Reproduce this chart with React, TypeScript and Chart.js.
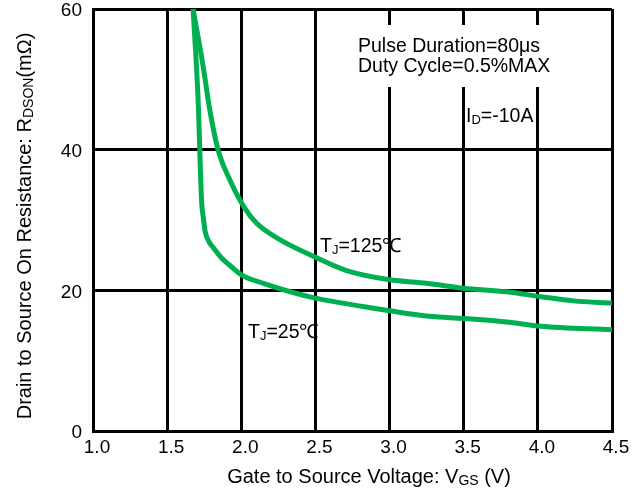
import React, { useEffect, useRef } from "react";
import { Chart, registerables } from "chart.js";

Chart.register(...registerables);

// Gate-to-source voltage (V) and Rds(on) (mΩ)
const vgs125: number[] = [1.675, 1.743, 1.788, 1.843, 1.923, 2.02, 2.1, 2.26, 2.49, 2.71, 3.0, 3.25, 3.5, 3.79, 4.02, 4.24, 4.5];
const rds125: number[] = [60, 51.8, 45.6, 40, 35.7, 31.8, 29.6, 27.2, 24.8, 22.8, 21.5, 21.0, 20.3, 19.8, 19.1, 18.5, 18.2];

const vgs25: number[] = [1.675, 1.709, 1.732, 1.745, 1.756, 1.78, 1.81, 1.867, 1.92, 2.0, 2.15, 2.33, 2.5, 2.82, 3.0, 3.27, 3.5, 3.79, 4.02, 4.5];
const rds25: number[] = [60, 47, 32.8, 30.2, 28.4, 27.0, 26.1, 24.6, 23.6, 22.2, 21.0, 19.8, 18.9, 17.7, 17.1, 16.3, 16.0, 15.5, 14.9, 14.4];

const xTicks: number[] = [1.0, 1.5, 2.0, 2.5, 3.0, 3.5, 4.0, 4.5];
const yTicks: number[] = [0, 20, 40, 60];

const seriesLabels: string[] = ["TJ=125℃", "TJ=25℃"];

const GREEN = "#00B050";
const FONT = "'Liberation Sans', Arial, sans-serif";

type Part = { t: string; sub?: boolean };

function drawRich(ctx: CanvasRenderingContext2D, parts: Part[], x: number, y: number, size: number, align: "left" | "center") {
  const subSize = Math.round(size * 0.68);
  let total = 0;
  const widths = parts.map((p) => {
    ctx.font = `${p.sub ? subSize : size}px ${FONT}`;
    const w = ctx.measureText(p.t).width;
    total += w;
    return w;
  });
  let cx = align === "center" ? x - total / 2 : x;
  ctx.textBaseline = "alphabetic";
  ctx.textAlign = "left";
  parts.forEach((p, i) => {
    ctx.font = `${p.sub ? subSize : size}px ${FONT}`;
    ctx.fillText(p.t, cx, y + (p.sub ? 2 : 0));
    cx += widths[i];
  });
}

const annotationPlugin = {
  id: "annotations",
  afterDraw(chart: any) {
    const ctx: CanvasRenderingContext2D = chart.ctx;
    ctx.save();
    // white box behind conditions text
    ctx.fillStyle = "#fff";
    ctx.fillRect(352, 25, 208, 62);
    ctx.fillStyle = "#000";
    drawRich(ctx, [{ t: "Pulse Duration=80μs" }], 358, 52, 19.5, "left");
    drawRich(ctx, [{ t: "Duty Cycle=0.5%MAX" }], 358, 72, 19.5, "left");
    drawRich(ctx, [{ t: "I" }, { t: "D", sub: true }, { t: "=-10A" }], 466, 122, 19.5, "left");

    drawRich(ctx, [{ t: "T" }, { t: "J", sub: true }, { t: seriesLabels[0].slice(2) }], 320, 252, 19.5, "left");
    drawRich(ctx, [{ t: "T" }, { t: "J", sub: true }, { t: seriesLabels[1].slice(2) }], 248, 338, 19.5, "left");

    // x axis title
    drawRich(ctx, [{ t: "Gate to Source Voltage: V" }, { t: "GS", sub: true }, { t: " (V)" }], 369, 483, 20, "center");

    // y axis title
    ctx.translate(31, 226);
    ctx.rotate(-Math.PI / 2);
    drawRich(ctx, [{ t: "Drain to Source On Resistance: R" }, { t: "DSON", sub: true }, { t: "(mΩ)" }], 0, 0, 20, "center");
    ctx.restore();
  },
};

export default function App() {
  const ref = useRef<HTMLCanvasElement>(null);
  useEffect(() => {
    if (!ref.current) return;
    const chart = new Chart(ref.current, {
      type: "line",
      data: {
        datasets: [
          {
            label: seriesLabels[0],
            data: vgs125.map((x, i) => ({ x, y: rds125[i] })),
            borderColor: GREEN,
            borderWidth: 5,
            pointRadius: 0,
            cubicInterpolationMode: "monotone",
            fill: false,
          },
          {
            label: seriesLabels[1],
            data: vgs25.map((x, i) => ({ x, y: rds25[i] })),
            borderColor: GREEN,
            borderWidth: 5,
            pointRadius: 0,
            cubicInterpolationMode: "monotone",
            fill: false,
          },
        ],
      },
      options: {
        responsive: false,
        animation: false,
        layout: { padding: { top: 9, right: 22, left: 0, bottom: 0 } },
        plugins: { legend: { display: false }, tooltip: { enabled: false } },
        scales: {
          x: {
            type: "linear",
            min: xTicks[0],
            max: xTicks[xTicks.length - 1],
            afterBuildTicks: (scale: any) => {
              scale.ticks = xTicks.map((v) => ({ value: v }));
            },
            afterFit: (scale: any) => {
              scale.height = 57;
              scale.paddingLeft = 0;
              scale.paddingRight = 0;
            },
            ticks: {
              callback: (v: any) => Number(v).toFixed(1),
              font: { size: 19, family: FONT },
              color: "#000",
              padding: 5,
              labelOffset: 4,
              maxRotation: 0,
              autoSkip: false,
            },
            grid: { color: "#000", lineWidth: 3, drawTicks: false },
            border: { display: true, color: "#000", width: 3 },
          },
          y: {
            type: "linear",
            min: yTicks[0],
            max: yTicks[yTicks.length - 1],
            afterBuildTicks: (scale: any) => {
              scale.ticks = yTicks.map((v) => ({ value: v }));
            },
            afterFit: (scale: any) => {
              scale.width = 93;
              scale.paddingTop = 0;
              scale.paddingBottom = 0;
            },
            ticks: {
              font: { size: 19, family: FONT },
              color: "#000",
              padding: 11,
              labelOffset: 2,
            },
            grid: { color: "#000", lineWidth: 3, drawTicks: false },
            border: { display: true, color: "#000", width: 3 },
          },
        },
      },
      plugins: [annotationPlugin],
    } as any);
    return () => chart.destroy();
  }, []);
  return (
    <div style={{ position: "absolute", left: 0, top: 0, width: 634, height: 488, background: "#fff" }}>
      <canvas ref={ref} width={634} height={488} style={{ display: "block" }} />
    </div>
  );
}
